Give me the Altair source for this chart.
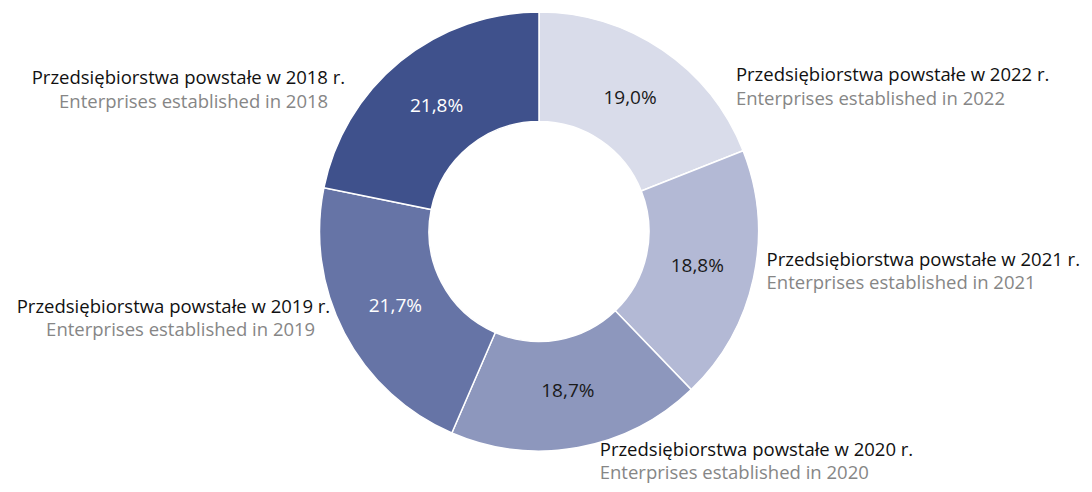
import math
import altair as alt
import pandas as pd

# ---- data ----
years = ["2022", "2021", "2020", "2019", "2018"]
shares = [19.0, 18.8, 18.7, 21.7, 21.8]
pct_labels = ["19,0%", "18,8%", "18,7%", "21,7%", "21,8%"]
labels_pl = ["Przedsiębiorstwa powstałe w 2022 r.",
             "Przedsiębiorstwa powstałe w 2021 r.",
             "Przedsiębiorstwa powstałe w 2020 r.",
             "Przedsiębiorstwa powstałe w 2019 r.",
             "Przedsiębiorstwa powstałe w 2018 r."]
labels_en = ["Enterprises established in 2022",
             "Enterprises established in 2021",
             "Enterprises established in 2020",
             "Enterprises established in 2019",
             "Enterprises established in 2018"]
colors = ["#d9dcea", "#b3b9d5", "#8d97bd", "#6674a6", "#3f518c"]

df = pd.DataFrame({
    "order": list(range(len(years))),
    "year": years,
    "share": shares,
    "pct": pct_labels,
    "pl": labels_pl,
    "en": labels_en,
})

FONT = "Open Sans"
FS = 18.5
CX, CY = 531, 223.5

base = (
    alt.Chart(df)
    .transform_window(end="sum(share)", sort=[alt.SortField("order")], frame=[None, 0])
    .transform_calculate(start="datum.end - datum.share",
                         mid="datum.end - datum.share / 2")
)

theta_scale = alt.Scale(domain=[0, 100], range=[0, 2 * math.pi])

arcs = base.mark_arc(innerRadius=110, outerRadius=219.5,
                     stroke="white", strokeWidth=1.5).encode(
    theta=alt.Theta("start:Q", scale=theta_scale),
    theta2="end:Q",
    color=alt.Color("year:N", scale=alt.Scale(domain=years, range=colors), legend=None),
    x=alt.value(CX), y=alt.value(CY),
)

pct = base.mark_text(radius=162, fontSize=19, font=FONT, baseline="middle").encode(
    theta=alt.Theta("mid:Q", scale=theta_scale),
    text="pct:N",
    color=alt.condition(alt.FieldOneOfPredicate(field="year", oneOf=["2019", "2018"]),
                        alt.value("white"), alt.value("#1a1a1a")),
    x=alt.value(CX), y=alt.value(CY),
)

# label layout styles (align and pixel offsets from polar anchor at radius 240)
label_style = {
    "2022": dict(align="left", dx1=62, dy1=42, dx2=62, dy2=66),
    "2021": dict(align="left", dx1=-7, dy1=-22, dx2=-7, dy2=1),
    "2020": dict(align="left", dx1=18, dy1=-18, dx2=18, dy2=5),
    "2019": dict(align="right", dx1=4, dy1=-35, dx2=-11, dy2=-12),
    "2018": dict(align="right", dx1=-42, dy1=32, dx2=-59, dy2=56),
}

layers = [arcs, pct]
for y in years:
    s = label_style[y]
    sub = base.transform_filter(alt.datum.year == y)
    l1 = sub.mark_text(radius=240, fontSize=FS, font=FONT, align=s["align"],
                       baseline="middle", dx=s["dx1"], dy=s["dy1"], color="#111111").encode(
        theta=alt.Theta("mid:Q", scale=theta_scale), text="pl:N",
        x=alt.value(CX), y=alt.value(CY))
    l2 = sub.mark_text(radius=240, fontSize=FS, font=FONT, align=s["align"],
                       baseline="middle", dx=s["dx2"], dy=s["dy2"], color="#868686").encode(
        theta=alt.Theta("mid:Q", scale=theta_scale), text="en:N",
        x=alt.value(CX), y=alt.value(CY))
    layers += [l1, l2]

chart = (
    alt.layer(*layers)
    .properties(width=1076, height=476, padding=0, autosize="none", background="white")
    .configure_view(stroke=None)
)

chart.save("out.html", embed_options={"renderer": "svg", "actions": False})
